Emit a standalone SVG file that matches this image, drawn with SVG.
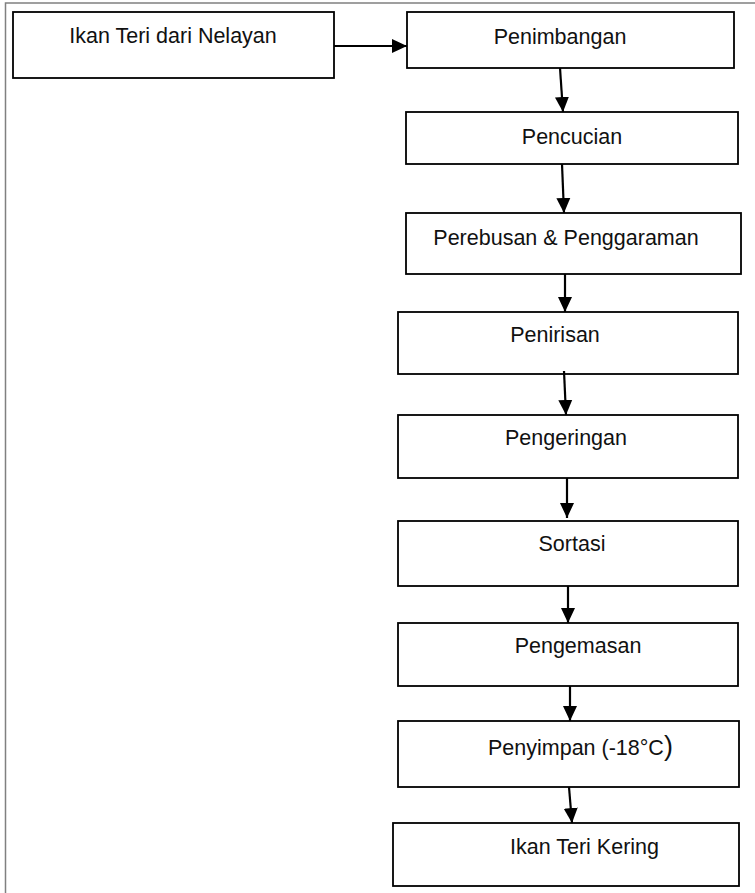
<svg xmlns="http://www.w3.org/2000/svg" width="755" height="893" viewBox="0 0 755 893">
<defs>
<style>
.box{fill:#fff;stroke:#000;stroke-width:1.8}
.lbl{font-family:"Liberation Sans",Arial,sans-serif;font-size:21.5px;fill:#111}
.mid{text-anchor:middle}
.conn line{stroke:#000;stroke-width:2.2;marker-end:url(#ah)}
</style>
<marker id="ah" markerUnits="userSpaceOnUse" markerWidth="16" markerHeight="16" viewBox="0 0 16 16" refX="15" refY="8" orient="auto">
<path d="M0,1 L15,8 L0,15 Z" fill="#000"/>
</marker>
</defs>
<rect x="5.5" y="3" width="800" height="950" fill="#fff" stroke="#808080" stroke-width="1.5"/>
<g id="n1"><rect class="box" x="13" y="12" width="321" height="66"/><text class="lbl mid" x="173" y="43">Ikan Teri dari Nelayan</text></g>
<g id="n2"><rect class="box" x="407" y="12" width="327" height="56"/><text class="lbl mid" x="560" y="44">Penimbangan</text></g>
<g id="n3"><rect class="box" x="406" y="112" width="332" height="52"/><text class="lbl mid" x="572" y="144">Pencucian</text></g>
<g id="n4"><rect class="box" x="406" y="213" width="335" height="61"/><text class="lbl mid" x="566" y="245">Perebusan &amp; Penggaraman</text></g>
<g id="n5"><rect class="box" x="398" y="312" width="340" height="62"/><text class="lbl mid" x="555" y="342">Penirisan</text></g>
<g id="n6"><rect class="box" x="398" y="415" width="340" height="63"/><text class="lbl mid" x="566" y="445">Pengeringan</text></g>
<g id="n7"><rect class="box" x="398" y="521" width="340" height="65"/><text class="lbl mid" x="572" y="551">Sortasi</text></g>
<g id="n8"><rect class="box" x="398" y="623" width="340" height="63"/><text class="lbl mid" x="578" y="653">Pengemasan</text></g>
<g id="n9"><rect class="box" x="398" y="721" width="341" height="66"/><text class="lbl" x="488" y="755">Penyimpan (-18°C<tspan font-size="27">)</tspan></text></g>
<g id="n10"><rect class="box" x="393" y="823" width="346" height="63"/><text class="lbl" x="510" y="854">Ikan Teri Kering</text></g>
<g id="connectors" class="conn">
<line x1="334" y1="46" x2="407" y2="46"/>
<line x1="560" y1="68" x2="563" y2="112"/>
<line x1="562" y1="164" x2="564" y2="213"/>
<line x1="565" y1="274" x2="565" y2="312"/>
<line x1="564" y1="371" x2="566" y2="415"/>
<line x1="567" y1="478" x2="567" y2="518"/>
<line x1="568" y1="586" x2="568" y2="623"/>
<line x1="570" y1="686" x2="570" y2="721"/>
<line x1="569" y1="787" x2="572" y2="823"/>
</g>
</svg>
